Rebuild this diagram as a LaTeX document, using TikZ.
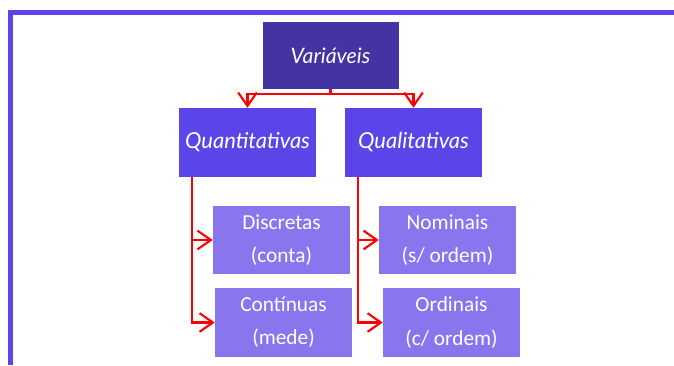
\documentclass[tikz,border=0pt]{standalone}
\usepackage{fontspec}
\setmainfont{Carlito}
\newfontfamily\topfont{Lato}
\usetikzlibrary{arrows.meta}
\definecolor{cDark}{RGB}{68,51,163}
\definecolor{cMid}{RGB}{91,69,232}
\definecolor{cLight}{RGB}{135,118,238}
\definecolor{cRed}{RGB}{255,0,0}
\tikzset{
  px/.style={x=0.75pt,y=-0.75pt},
  topbox/.style={fill=cDark,text=white,inner sep=0pt,font=\topfont\itshape\fontsize{16}{18}\selectfont},
  midbox/.style={fill=cMid,text=white,inner sep=0pt,font=\topfont\itshape\fontsize{16.5}{18}\selectfont},
  lowbox/.style={fill=cLight,text=white,inner sep=0pt,align=center,font=\fontsize{16}{25}\selectfont},
  conn/.style={draw=cRed,line width=1.6pt,-{Straight Barb[length=10pt,width=14pt,line width=1.6pt]}},
  plain/.style={draw=cRed,line width=1.6pt},
}
\begin{document}
\begin{tikzpicture}[px]
\useasboundingbox (0,0) rectangle (674,365);
% frame
\draw[cMid,line width=3.6pt] (10.5,365) -- (10.5,12.5) -- (674,12.5);
% boxes
\node[topbox,minimum width=136*0.75pt,minimum height=67*0.75pt] (var) at (330.5,55.5) {Variáveis};
\node[midbox,minimum width=137*0.75pt,minimum height=69*0.75pt] (quant) at (247.5,142.5) {Quantitativas};
\node[midbox,minimum width=137*0.75pt,minimum height=69*0.75pt] (qual) at (413.5,142.5) {Qualitativas};
\node[lowbox,minimum width=137*0.75pt,minimum height=68*0.75pt] (disc) at (281.5,240) {Discretas\\(conta)};
\node[lowbox,minimum width=137*0.75pt,minimum height=69*0.75pt] (cont) at (283.5,322.5) {Contínuas\\(mede)};
\node[lowbox,minimum width=137*0.75pt,minimum height=68*0.75pt] (nom) at (447.5,240) {Nominais\\(s/ ordem)};
\node[lowbox,minimum width=137*0.75pt,minimum height=69*0.75pt] (ord) at (451.5,322.5) {Ordinais\\(c/ ordem)};
% connectors
\coordinate (hb) at (var.south |- 0,94);
\draw[plain] (var.south) -- (hb);
\draw[conn] (hb) -- (quant.north |- hb) -- (quant.north);
\draw[conn] (hb) -- (qual.north |- hb) -- (qual.north);
\coordinate (qa) at (192,177);
\coordinate (qb) at (358,177);
\draw[conn] (qa) |- (disc.west);
\draw[conn] (qa) |- (cont.west);
\draw[conn] (qb) |- (nom.west);
\draw[conn] (qb) |- (ord.west);
\end{tikzpicture}
\end{document}
